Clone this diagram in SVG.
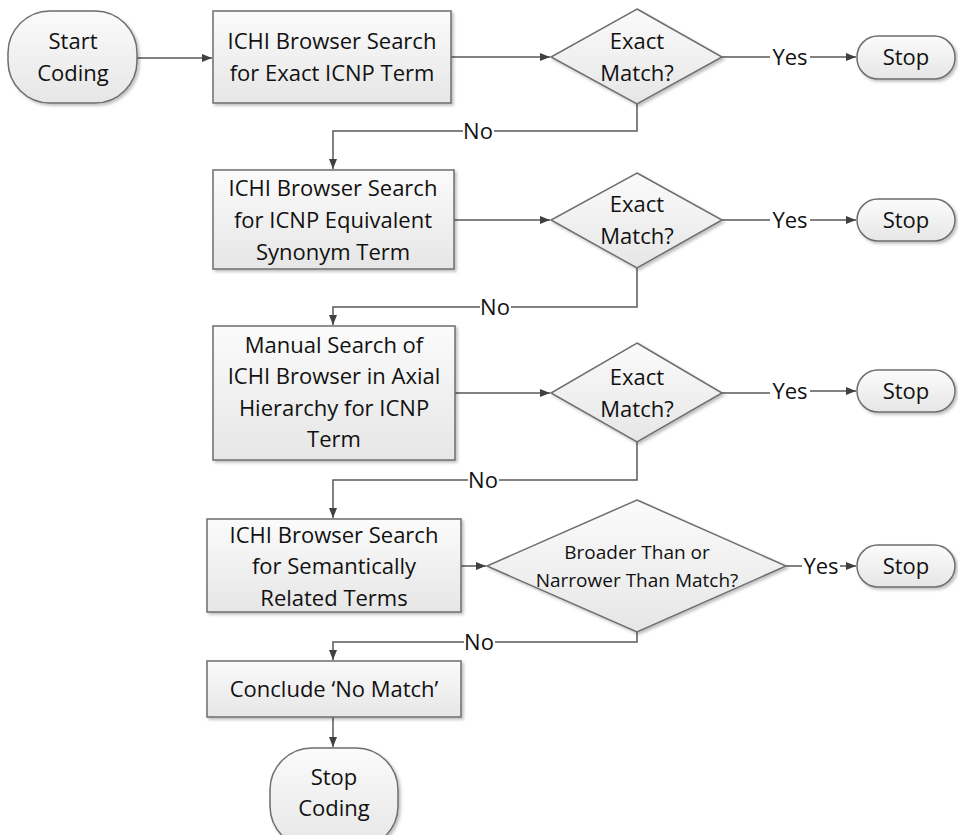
<svg xmlns="http://www.w3.org/2000/svg" width="958" height="835" viewBox="0 0 958 835">
<style>
.n{fill:url(#g);stroke:#6e6e6e;stroke-width:1.5;filter:url(#sh)}
.t{font-family:"Open Sans","Liberation Sans",sans-serif;font-size:22px;fill:#111;text-anchor:middle}
.s{font-size:19px}
.c{fill:none;stroke:#595959;stroke-width:1.5}
.a{marker-end:url(#ar)}
.lb{fill:#fff}
</style>
<defs>
<linearGradient id="g" x1="0" y1="0" x2="0" y2="1">
<stop offset="0" stop-color="#fbfbfb"/>
<stop offset="1" stop-color="#e6e6e6"/>
</linearGradient>
<filter id="sh" x="-10%" y="-10%" width="130%" height="130%">
<feDropShadow dx="2" dy="2" stdDeviation="1.5" flood-color="#000" flood-opacity="0.25"/>
</filter>
<marker id="ar" viewBox="0 0 10 10" refX="10" refY="5" markerWidth="10" markerHeight="10" markerUnits="userSpaceOnUse" orient="auto">
<path d="M0,1 L10,5 L0,9 z" fill="#404040"/>
</marker>
</defs>

<g id="connectors">
<path class="c a" d="M137,58 H212"/>
<path class="c a" d="M451,57 H550"/>
<path class="c" d="M722,57 H770"/>
<path class="c a" d="M810,57 H856"/>
<path class="c a" d="M637,104 V131 H333 V169"/>
<path class="c a" d="M454,220 H550"/>
<path class="c" d="M722,220 H770"/>
<path class="c a" d="M810,220 H856"/>
<path class="c a" d="M637,268 V307 H333 V325"/>
<path class="c a" d="M455,393 H550"/>
<path class="c" d="M722,393 H770"/>
<path class="c a" d="M810,391 H856"/>
<path class="c a" d="M637,442 V480 H333 V518"/>
<path class="c a" d="M461,566 H486"/>
<path class="c" d="M786,566 H802"/>
<path class="c a" d="M840,566 H856"/>
<path class="c a" d="M637,632 V642 H333 V660"/>
<path class="c a" d="M333,717 V747"/>
<rect class="lb" x="463" y="120" width="31" height="22"/>
<text class="t" x="478" y="139">No</text>
<rect class="lb" x="480" y="296" width="31" height="22"/>
<text class="t" x="495" y="315">No</text>
<rect class="lb" x="468" y="469" width="31" height="22"/>
<text class="t" x="483" y="488">No</text>
<rect class="lb" x="464" y="631" width="31" height="22"/>
<text class="t" x="479" y="650">No</text>
<rect class="lb" x="771" y="46" width="39" height="22"/>
<text class="t" x="790" y="65">Yes</text>
<rect class="lb" x="771" y="209" width="39" height="22"/>
<text class="t" x="790" y="228">Yes</text>
<rect class="lb" x="771" y="380" width="39" height="22"/>
<text class="t" x="790" y="399">Yes</text>
<rect class="lb" x="802" y="555" width="38" height="22"/>
<text class="t" x="821" y="574">Yes</text>
</g>

<g id="start">
<rect class="n" x="8" y="11" width="129" height="92" rx="42" ry="42"/>
<text class="t" x="73" y="49">Start</text>
<text class="t" x="73" y="81">Coding</text>
</g>
<g id="box1">
<rect class="n" x="213" y="11" width="238" height="92"/>
<text class="t" x="332" y="49">ICHI Browser Search</text>
<text class="t" x="332" y="81">for Exact ICNP Term</text>
</g>
<g id="dec1">
<polygon class="n" points="637,9 722,57 637,104 551,57"/>
<text class="t" x="637" y="49">Exact</text>
<text class="t" x="637" y="81">Match?</text>
</g>
<g id="stop1">
<rect class="n" x="857" y="36" width="98" height="43" rx="21" ry="21"/>
<text class="t" x="906" y="65">Stop</text>
</g>

<g id="box2">
<rect class="n" x="213" y="170" width="241" height="99"/>
<text class="t" x="333" y="196">ICHI Browser Search</text>
<text class="t" x="333" y="228">for ICNP Equivalent</text>
<text class="t" x="333" y="260">Synonym Term</text>
</g>
<g id="dec2">
<polygon class="n" points="637,173 722,220 637,268 551,220"/>
<text class="t" x="637" y="212">Exact</text>
<text class="t" x="637" y="244">Match?</text>
</g>
<g id="stop2">
<rect class="n" x="857" y="199" width="98" height="42" rx="21" ry="21"/>
<text class="t" x="906" y="228">Stop</text>
</g>

<g id="box3">
<rect class="n" x="213" y="326" width="242" height="134"/>
<text class="t" x="334" y="353">Manual Search of</text>
<text class="t" x="334" y="384">ICHI Browser in Axial</text>
<text class="t" x="334" y="416">Hierarchy for ICNP</text>
<text class="t" x="334" y="447">Term</text>
</g>
<g id="dec3">
<polygon class="n" points="637,343 722,393 637,442 551,393"/>
<text class="t" x="637" y="385">Exact</text>
<text class="t" x="637" y="417">Match?</text>
</g>
<g id="stop3">
<rect class="n" x="857" y="370" width="98" height="42" rx="21" ry="21"/>
<text class="t" x="906" y="399">Stop</text>
</g>

<g id="box4">
<rect class="n" x="207" y="519" width="254" height="93"/>
<text class="t" x="334" y="543">ICHI Browser Search</text>
<text class="t" x="334" y="574">for Semantically</text>
<text class="t" x="334" y="606">Related Terms</text>
</g>
<g id="dec4">
<polygon class="n" points="637,500 786,566 637,632 487,566"/>
<text class="t s" x="637" y="559">Broader Than or</text>
<text class="t s" x="637" y="587">Narrower Than Match?</text>
</g>
<g id="stop4">
<rect class="n" x="857" y="545" width="98" height="42" rx="21" ry="21"/>
<text class="t" x="906" y="574">Stop</text>
</g>

<g id="box5">
<rect class="n" x="207" y="661" width="254" height="56"/>
<text class="t" x="334" y="697">Conclude ‘No Match’</text>
</g>
<g id="stopcoding">
<rect class="n" x="270" y="748" width="128" height="100" rx="42" ry="42"/>
<text class="t" x="334" y="785">Stop</text>
<text class="t" x="334" y="816">Coding</text>
</g>
</svg>
